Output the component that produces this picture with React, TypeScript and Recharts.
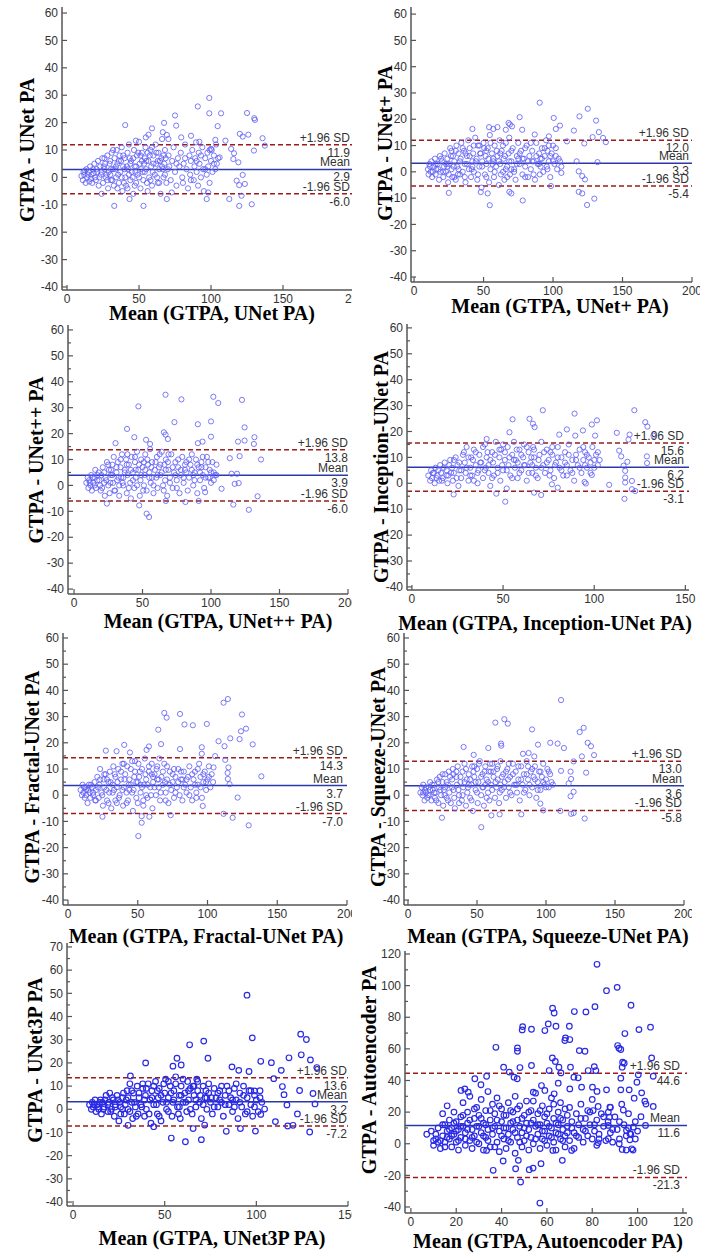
import React from 'react';
import { ScatterChart, Scatter, XAxis, YAxis, ReferenceLine } from 'recharts';

type Pt = [number, number];

// ---- data ----
const unetPts: Pt[] = [
  [10,0.5],[11,-1],[11.5,2],[12,1],[13,-2],[13.5,3],[14,0],[15,2],[15.5,-1.5],[16,4],[17,1],[17.5,-2],[18,3],[19,5],[19.5,0],[20,-1],[21,2],[21.5,6],[22,-3],[23,4],[23.5,1],[24,-6],[24.5,7],[25,-2],[26,3],[26.5,5],[27,0],[28,8],[28.5,-4],[29,2],[30,6],[30.5,-1],[31,9],[32,3],[32.5,-3],[33,7],[34,0],[34.5,10],[35,5],[36,-2],[36.5,8],[37,2],[38,11],[38.5,-5],[39,4],[40,7],[40.5,0],[41,-3],[42,9],[42.5,3],[43,12],[44,-1],[44.5,6],[45,2],[46,-6],[46.5,10],[47,4],[48,-2],[48.5,8],[49,1],[50,13],[50.5,5],[51,-4],[52,9],[52.5,2],[53,-1],[54,7],[54.5,11],[55,3],[56,-5],[56.5,6],[57,0],[58,10],[58.5,4],[59,-3],[60,8],[61,1],[61.5,12],[62,5],[63,-2],[63.5,9],[64,3],[65,-6],[65.5,7],[66,14],[67,0],[67.5,5],[68,10],[69,-2],[70,3],[70.5,8],[72,-1],[73,6],[74,11],[75,2],[76,-3],[77,7],[78,4],[79,9],[80,0],[80.5,-2],[81,5],[82,12],[83,3],[84,-4],[85,8],[85.5,1],[86,6],[87,10],[88,-1],[88.5,4],[89,7],[90,2],[91,-3],[91.5,9],[92,5],[93,0],[94,11],[94.5,3],[95,-5],[96,7],[97,1],[97.5,9],[98,4],[99,-2],[100,6],[100.5,10],[101,2],[102,8],[103,3],[103.5,12],[104,5],[105,7],
  [12.5,2.5],[14.5,1],[16.5,-0.5],[18.5,1.5],[20.5,3],[22.5,0],[24,2],[25.5,4],[27.5,1],[29.5,5],[31.5,-1],[33.5,3],[35.5,1],[37.5,6],[39.5,-2],[41.5,4],[43.5,7],[45.5,0],[47.5,2],[49.5,9],[51.5,3],[53.5,5],[55.5,-2],[57.5,8],[59.5,2],[62.5,0],[64.5,6],[66.5,3],[68.5,7],[71,4],[26,7],[28,-1],[30,1],[32,10],[34,4],[36,6],[38,0],[40,3],[42,-4],[44,5],[46,7],[48,4],[50,0],[52,6],[54,2],[56,9],[58,-1],[60,5],[62,9],[64,-2],[66,4],[68,1],[30.5,3],[35,-4],[39,8],[43,1],[47,-3],[51,8],[55,6],[59,11],[63,6],[67,8],[76,5],[82,7],[86,-1],[90,6],[93,8],[96,3],[99,10],[102,5],
  [40.4,19.1],[90.8,25.9],[98.8,29],[98.8,23.4],[107,23.4],[75,22.6],[67.4,19.9],[75.8,18.9],[104.6,18.7],[59,17.9],[125,23.5],[130,21.6],[130.5,21],[135.8,14.3],[137.4,11.6],[120,15.9],[122,14.9],[125.9,15.6],[110,13.4],[114,10.4],[116,8.8],[119,5.5],[115.5,6.7],[129.8,9.8],[117.8,-1.2],[119.6,-2.8],[123.5,-2.4],[122,0.9],[112.7,-7.9],[119.6,-10.4],[121.2,-6.7],[128.3,-9.8],[32.8,-10.4],[53.1,-10.4],[43.4,-7.9],[69.3,-7.9],[72.7,-5.5],[47.8,13.4],[54.7,14.6],[56.6,15.6],[66.5,16.5],[69.3,15.5],[70.4,14],[79.3,14.6],[86.1,15.2],[89.6,12.8],[91.9,13],[103,13.7],[100,10.4],[106,7.3],[97,-7.9],[98,-5.5],
];

const unetPlusPts: Pt[] = [
  [10,1],[10.5,-1],[11,3],[12,0],[12.5,4],[13,-2],[14,2],[15,5],[15.5,-1],[16,1],[17,3],[18,-3],[18.5,6],[19,0],[20,4],[21,-2],[21.5,2],[22,7],[23,0],[24,5],[24.5,-4],[25,3],[26,9],[27,1],[27.5,-2],[28,6],[29,4],[30,-3],[30.5,10],[31,2],[32,7],[33,-1],[33.5,5],[34,11],[35,0],[36,8],[36.5,3],[37,-4],[38,6],[39,12],[39.5,1],[40,9],[41,-2],[42,4],[42.5,7],[43,0],[44,13],[45,5],[45.5,-3],[46,10],[47,2],[48,7],[48.5,-6],[49,4],[50,11],[51,-1],[51.5,6],[52,3],[53,9],[54,-4],[54.5,14],[55,1],[56,7],[57,4],[57.5,-2],[58,10],[59,2],[60,6],[61,-5],[61.5,12],[62,3],[63,8],[64,0],[64.5,5],[65,-3],[66,11],[67,2],[68,7],[68.5,13],[69,-1],[70,4],[71,9],[72,1],[73,-3],[74,6],[75,11],[76,3],[77,8],[78,-1],[79,5],[80,2],[81,10],[82,-2],[83,6],[84,1],[85,8],[86,4],[87,-3],[88,11],[89,3],[90,7],[90.5,-1],[91,5],[92,9],[93,0],[94,6],[95,12],[95.5,2],[96,8],[97,4],[98,-2],[99,7],[100,10],[101,3],[102,6],[103,1],[104,5],[105,4],[106,2],
  [11.5,2],[13.5,0],[15.5,3],[17.5,1],[19.5,5],[21,0],[23,3],[25,-1],[26.5,6],[28.5,2],[30,8],[31.5,-1],[33,4],[35,9],[36.5,-2],[38,3],[40,6],[41.5,1],[43,10],[44.5,4],[46,-1],[47.5,7],[49,2],[50.5,9],[52,-2],[53.5,5],[55,11],[56.5,3],[58,0],[59.5,8],[61,4],[62.5,-1],[64,10],[65.5,6],[67,-2],[68.5,4],[70,8],[72,0],[74,3],[76,7],[78,5],[80,9],[82,4],[84,11],[86,-1],[88,6],[90,3],[92,5],[94,9],[96,1],[98,6],[100,4],[24,2],[27,8],[32,1],[37,7],[42,2],[47,10],[52,8],[57,5],[62,7],[66,1],[70,1],[75,5],[80,-2],[85,4],[91,2],[97,10],[102,9],[29,-2],
  [90.4,26.3],[76,20.8],[100.5,20.5],[105,17.6],[102,16.3],[115,15.7],[119,21.1],[125,24],[131,19.5],[133,15.1],[136,12.9],[138,11.3],[128.5,13.2],[122.5,10.8],[110,11.6],[42,16.3],[54,17],[57,16.3],[60,17],[66,16],[69,18],[68,18.6],[70.5,17.3],[77.8,16],[86.8,14.2],[97,13.5],[117,4],[118.5,0.2],[121,-1.6],[123,-2.9],[132,3.7],[118.5,-7.6],[121,-8.2],[124.5,-12.6],[129.7,-10.2],[78.2,-10.9],[54.5,-12.7],[48,-7.7],[53,-8.2],[25,-8],[68.6,-7.6],[70,-8.2],[98.5,-5.4],[106,-0.4],
];

const unetPPPts: Pt[] = [
  [9,1],[10,3],[10.5,-1],[11,2],[12,0],[12.5,4],[13,-2],[14,1],[15,3],[15.5,6],[16,-1],[17,2],[18,5],[19,0],[19.5,-2],[20,4],[21,7],[22,1],[22.5,-4],[23,3],[24,9],[25,0],[25.5,6],[26,-3],[27,4],[28,8],[28.5,1],[29,11],[30,-2],[31,5],[31.5,2],[32,9],[33,-4],[34,7],[34.5,3],[35,12],[36,0],[37,6],[38,10],[38.5,-3],[39,4],[40,8],[41,1],[41.5,-5],[42,11],[43,5],[44,-1],[44.5,9],[45,3],[46,13],[47,6],[48,-4],[48.5,2],[49,10],[50,7],[51,0],[51.5,4],[52,12],[53,-2],[54,8],[55,5],[55.5,14],[56,1],[57,9],[58,-3],[59,6],[60,3],[60.5,11],[61,-1],[62,7],[63,4],[64,13],[65,0],[66,8],[66.5,2],[67,10],[68,-4],[69,6],[70,3],[71,12],[72,-1],[73,5],[74,9],[75,2],[76,7],[77,-3],[78,4],[79,11],[80,1],[81,6],[82,9],[83,-2],[84,3],[85,8],[86,12],[87,0],[88,5],[89,10],[90,-3],[91,7],[92,2],[93,9],[94,4],[95,-1],[96,7],[97,11],[98,3],[99,6],[100,1],[101,9],[102,5],[103,4],[104,8],
  [11.5,1],[13.5,3],[15,0],[17,4],[18.5,2],[20.5,-1],[22,5],[23.5,2],[25,8],[26.5,1],[28,4],[29.5,-2],[31,7],[32.5,3],[34,10],[35.5,1],[37,5],[38.5,8],[40,-1],[41.5,6],[43,2],[44.5,11],[46,0],[47.5,8],[49,4],[50.5,-2],[52,6],[53.5,10],[55,3],[56.5,7],[58,0],[59.5,9],[61,4],[62.5,12],[64,5],[65.5,-2],[67,6],[68.5,9],[70,1],[72,7],[74,4],[76,10],[78,6],[80,3],[82,5],[84,10],[86,6],[88,2],[90,8],[92,5],[94,11],[96,3],[98,9],[100,5],[102,2],[27,6],[33,0],[39,12],[45,6],[51,9],[57,3],[63,8],[69,12],[75,-1],[81,8],[87,4],[93,7],[99,3],[104,4],[36,3],
  [66.8,35],[78.4,33.2],[101.7,34.2],[105.3,31.8],[122.6,33],[47,30.5],[73.3,24.4],[90.4,23.6],[100,24.7],[124.5,22.4],[38.7,21.8],[65.6,20.5],[66.8,19.6],[68.5,17.9],[44,18.6],[100,18.8],[119.7,16.9],[124.5,17.3],[131.7,18.6],[131.3,16],[136.5,10],[113.7,10.5],[120.9,11.3],[30.3,16.3],[52.6,17.6],[55.5,16],[90.4,16.3],[93.8,16.9],[115,4.5],[119,4.5],[117.3,0.6],[120.2,0.9],[134,-4.2],[127.6,-9.4],[116.3,-7.4],[107.7,-1.3],[53,-10.9],[54.8,-12.2],[47.6,-7.7],[24,-7],[67,-6],[81.3,-6.4],[91,-6],[95.7,-2.6],
];

const inceptionPts: Pt[] = [
  [9,3],[10,1],[10.5,5],[11,2],[12,4],[12.5,0],[13,6],[14,3],[15,1],[15.5,7],[16,4],[17,2],[18,8],[19,5],[19.5,0],[20,3],[21,9],[22,6],[22.5,1],[23,4],[24,10],[25,7],[25.5,-1],[26,5],[27,2],[28,11],[29,8],[29.5,4],[30,14],[31,1],[32,6],[32.5,10],[33,3],[34,13],[35,7],[36,0],[36.5,5],[37,11],[38,8],[39,2],[40,15],[40.5,6],[41,10],[42,4],[43,-1],[44,12],[44.5,8],[45,3],[46,16],[47,6],[48,10],[48.5,1],[49,13],[50,5],[51,9],[52,-2],[52.5,14],[53,7],[54,3],[55,11],[56,16],[56.5,6],[57,9],[58,2],[59,13],[60,5],[61,10],[61.5,15],[62,7],[63,1],[64,12],[65,8],[66,4],[66.5,14],[67,10],[68,6],[69,2],[70,11],[71,16],[72,7],[73,4],[74,13],[75,9],[76,5],[77,11],[78,2],[79,8],[80,14],[81,6],[82,10],[83,3],[84,12],[85,7],[86,15],[87,5],[88,9],[89,1],[90,11],[91,7],[92,13],[93,4],[94,9],[95,12],[96,6],[97,10],[98,8],[99,14],[100,6],[101,11],[102,7],[103,9],
  [11.5,4],[13.5,2],[14.5,5],[16.5,1],[17.5,6],[19,3],[20.5,7],[21.5,4],[23,9],[24.5,2],[26,8],[27,5],[28.5,12],[30,6],[31,10],[32,3],[33.5,9],[35,12],[36,4],[37.5,8],[39,14],[40,5],[41.5,12],[43,9],[44,2],[45.5,11],[47,4],[48,13],[49.5,7],[51,12],[52,5],[53.5,10],[55,2],[56,9],[57.5,13],[59,4],[60,11],[61.5,7],[63,14],[64,4],[65.5,10],[67,13],[68,3],[69.5,9],[71,6],[72.5,12],[74,8],[75.5,3],[77,14],[78.5,7],[80,10],[82,5],[84,8],[86,11],[88,4],[90,9],[92,6],[94,14],[96,11],[98,4],[100,9],[102,12],[34,1],[42,7],[50,15],[58,8],[66,7],[76,12],[85,3],[95,7],
  [71.8,28.2],[89.2,26.9],[122,28.2],[55.2,24.7],[64.5,24.9],[66.4,23],[67.3,21.7],[101.5,24.3],[98.7,22.7],[93.8,20.4],[85,20.8],[80.8,18.8],[89.6,18.4],[112.4,19.5],[119.4,18.8],[118.8,16.9],[128,23.6],[129.2,21.9],[132.5,18.4],[128.9,10.4],[129,7.8],[100.5,18.4],[41,17.1],[53.5,19.7],[113.7,12.6],[114.8,10.4],[116.1,6.8],[117,4.8],[118.2,8.3],[117,2.2],[117,0.3],[120.7,0.9],[108.2,-0.6],[116.6,-6],[120.7,-2.3],[122.5,-3],[51.2,-7.1],[46.3,-4],[67,-3.6],[70.9,-4.5],[76.8,-0.4],[80,-1.7],[22.9,-4.3],[98.7,3.2],[95.4,-0.1],[94.7,0.5],
];

const fractalPts: Pt[] = [
  [9,2],[10,0],[10.5,4],[11,1],[12,-1],[12.5,3],[13,2],[14,-3],[15,4],[15.5,1],[16,-1],[17,3],[18,0],[19,5],[19.5,-2],[20,2],[21,7],[22,-1],[22.5,4],[23,10],[24,1],[25,-4],[25.5,6],[26,3],[27,8],[28,-2],[29,5],[29.5,1],[30,9],[31,-5],[32,4],[32.5,11],[33,2],[34,7],[35,-3],[35.5,5],[36,10],[37,0],[38,6],[39,12],[39.5,-4],[40,3],[41,8],[42,1],[42.5,11],[43,-2],[44,6],[45,4],[46,13],[46.5,-6],[47,2],[48,9],[49,5],[50,-3],[50.5,12],[51,7],[52,1],[53,10],[54,-4],[54.5,4],[55,14],[56,6],[57,-1],[58,9],[59,3],[60,12],[60.5,-5],[61,5],[62,8],[63,0],[64,11],[65,3],[65.5,14],[66,-2],[67,7],[68,4],[69,12],[70,1],[71,6],[72,-3],[73,9],[74,2],[75,5],[76,-1],[77,7],[78,3],[79,10],[80,0],[81,6],[82,-2],[83,9],[84,4],[85,1],[86,7],[87,11],[88,3],[89,-2],[90,6],[91,9],[92,1],[93,4],[94,12],[95,7],[96,-1],[97,5],[98,9],[99,2],[100,6],[101,11],[102,3],[103,8],[104,5],
  [11.5,3],[13,0],[14.5,2],[16.5,4],[18,1],[20,-2],[21.5,3],[23,6],[24.5,0],[26,8],[27.5,2],[29,-3],[30.5,5],[32,1],[33.5,8],[35,3],[36.5,-1],[38,9],[39,2],[40.5,6],[42,-3],[43.5,4],[45,10],[46,1],[47.5,7],[49,-1],[50,5],[51.5,9],[53,3],[54,-2],[55.5,8],[57,4],[58,11],[59.5,0],[61,7],[62,3],[63.5,10],[65,6],[66.5,1],[68,9],[69.5,5],[71,11],[73,4],[75,8],[77,1],[79,5],[81,9],[83,3],[85,6],[87,0],[89,8],[91,4],[93,10],[95,3],[97,8],[99,5],[101,7],[28,6],[34,-2],[40,12],[44,2],[48,13],[52,4],[56,0],[60,8],[64,6],[70,-2],[76,10],[82,6],[92,-1],
  [50.4,-15.6],[52.8,-10.5],[52.8,-8],[129.5,-11.5],[118,-8.6],[111.5,-7.1],[121.6,-0.9],[24.7,-8.2],[58.3,-8.2],[73.6,-7.6],[69,31.4],[70.7,29.6],[80.3,31],[83.5,27],[89.5,26.7],[99.5,27.2],[111.5,35.3],[114.6,36.7],[124.7,30.8],[127.6,25.4],[124,24.4],[123,21.4],[116.3,21.7],[107.9,20.6],[112.2,18.7],[132.4,19.4],[138.6,7.2],[115,10.6],[114.4,8.5],[114.6,6.2],[115.8,4.2],[112.7,13.5],[105.5,14.9],[95.9,18.3],[95.9,15.8],[80.3,17.6],[64.7,25],[66.7,19.5],[40.3,19.2],[27.1,17],[34.8,16.8],[44.4,16.3],[58,18.6],[56.3,17.3],[104.3,10.6],[96.6,-4.1],
];

const squeezePts: Pt[] = [
  [9,1],[10,3],[10.5,0],[11,4],[12,-2],[12.5,2],[13,1],[14,-1],[15,3],[15.5,0],[16,5],[17,-2],[18,2],[19,4],[19.5,-1],[20,1],[21,6],[22,-3],[22.5,3],[23,7],[24,0],[25,5],[25.5,-4],[26,2],[27,8],[28,-1],[29,4],[29.5,9],[30,1],[31,-3],[32,6],[32.5,10],[33,2],[34,-5],[35,7],[35.5,4],[36,11],[37,0],[38,5],[39,-2],[39.5,9],[40,3],[41,12],[42,-4],[42.5,6],[43,1],[44,8],[45,-1],[46,4],[46.5,11],[47,-6],[48,7],[49,2],[50,10],[50.5,-3],[51,5],[52,13],[53,0],[54,8],[54.5,3],[55,-4],[56,11],[57,6],[58,1],[58.5,9],[59,-2],[60,4],[61,12],[62,7],[63,-1],[64,3],[64.5,10],[65,6],[66,-3],[67,13],[68,2],[69,8],[70,5],[71,-1],[72,10],[73,3],[74,7],[75,0],[76,12],[77,4],[78,9],[79,1],[80,6],[81,-2],[82,11],[83,4],[84,8],[85,2],[86,13],[87,6],[88,0],[89,9],[90,3],[91,7],[92,11],[93,-1],[94,5],[95,9],[96,2],[97,7],[98,12],[99,4],[100,6],[101,10],[102,3],[103,8],[104,5],[105,4],
  [11,1],[13,3],[14.5,0],[16,2],[17.5,4],[19,1],[20.5,-2],[22,5],[23.5,2],[25,8],[26.5,0],[28,5],[29,-2],[30.5,7],[32,3],[33.5,-1],[35,9],[36.5,2],[38,7],[39.5,0],[41,5],[42,10],[43.5,3],[45,6],[46,-2],[47.5,9],[49,5],[50,1],[51.5,12],[53,7],[54,3],[55.5,9],[57,-1],[58,5],[59.5,12],[61,2],[62,9],[63.5,5],[65,11],[66.5,1],[68,7],[69.5,3],[71,9],[72.5,6],[74,1],[76,8],[78,4],[80,11],[82,6],[84,1],[86,8],[88,4],[90,10],[92,6],[94,2],[96,9],[98,5],[100,3],[102,9],[27,3],[33,8],[37,-3],[44,4],[48,11],[56,4],[60,9],[67,4],[73,12],[79,4],[87,11],
  [110.9,36.3],[69.8,29],[72.3,27.3],[63.3,27.7],[89.9,25.1],[124.4,24.1],[127.3,25.7],[130.2,20],[132.6,18.7],[134.8,15.3],[126,14.8],[103.1,20],[108.4,19.7],[113,18],[94.2,19.3],[67.4,19.7],[67.6,18.9],[40.3,18.4],[58.2,18],[47.6,15.4],[83.3,15.8],[87.4,16.1],[91.5,14.8],[120,12.9],[110.9,9.3],[117.8,9],[129.1,8.6],[118.2,6.2],[116.4,4.5],[120,1.3],[117.8,-0.4],[118.2,-7.1],[120,-6.8],[110.4,-6],[128,-8.9],[98,-5.8],[53.1,-12.2],[60.4,-7.7],[66.4,-7.3],[24.6,-8.6],[82.1,-7.3],[95.9,-3.2],
];

const unet3pPts: Pt[] = [
  [9,2],[10,0],[10.5,3],[11,1],[12,4],[12.5,-1],[13,2],[14,0],[15,4],[15.5,-2],[16,3],[17,1],[18,6],[19,-1],[19.5,3],[20,7],[21,0],[22,4],[22.5,-3],[23,2],[24,6],[25,-5],[25.5,3],[26,1],[27,5],[28,-2],[29,4],[29.5,8],[30,0],[31,11],[32,3],[32.5,-4],[33,7],[34,1],[35,10],[35.5,-2],[36,5],[37,2],[38,9],[39,-3],[39.5,6],[40,0],[41,11],[42,4],[42.5,-6],[43,8],[44,2],[45,12],[46,-2],[46.5,5],[47,9],[48,-5],[49,3],[50,7],[50.5,13],[51,0],[52,5],[53,10],[54,-3],[54.5,3],[55,8],[56,14],[57,1],[58,6],[58.5,-4],[59,10],[60,3],[61,7],[62,-1],[62.5,12],[63,4],[64,9],[65,-2],[66,6],[67,1],[67.5,13],[68,8],[69,3],[70,-4],[71,10],[72,5],[73,0],[74,7],[75,3],[76,-2],[77,9],[78,5],[79,1],[80,8],[81,3],[82,-3],[83,6],[84,10],[85,2],[86,5],[87,-1],[88,9],[89,4],[90,-4],[91,7],[92,1],[93,10],[94,-2],[95,5],[96,8],[97,2],[98,-3],[99,6],[100,4],[101,-1],[102,8],[103,3],
  [11.5,2],[13.5,1],[14.5,3],[16.5,0],[17.5,4],[19,2],[20.5,-1],[21.5,5],[23,1],[24.5,4],[26,-2],[27.5,7],[28.5,2],[30,5],[31,-1],[32,8],[33.5,3],[34.5,-3],[36,7],[37.5,1],[39,4],[40,9],[41.5,-2],[43,5],[44,10],[45.5,2],[47,-3],[48,6],[49.5,11],[51,3],[52,-1],[53.5,7],[55,4],[56,11],[57.5,-2],[59,6],[60,13],[61.5,3],[63,8],[64,0],[65.5,10],[67,4],[68,12],[69.5,6],[71,2],[72.5,8],[74,11],[75.5,5],[77,1],[79,7],[81,10],[83,2],[85,8],[87,4],[89,11],[91,3],[93,6],[95,-1],[97,8],[99,1],[102,5],[27,0],[38,11],[46,8],[52,12],[58,1],[66,10],[73,5],[80,4],[88,1],
  [94.9,49.2],[97.8,30.8],[71.3,29.4],[63.6,27.8],[73.6,22],[56.7,22],[59,19.1],[54.5,18.6],[39.6,20],[31.3,14.4],[86.7,18.3],[90.4,16.8],[96,16.3],[102.4,20.7],[108.2,20.1],[113.6,16.8],[117.8,22.2],[124.2,32.4],[127.3,30.1],[124.5,23.5],[129.5,21.3],[133,18],[109.5,13.2],[114.2,9.8],[115.1,6.3],[116.7,1.9],[123.6,8.1],[130.9,6.8],[132,2.3],[122.4,-2],[120,-6.9],[117.1,-7.2],[110.4,-5.3],[129.1,-9.8],[99.5,-9.4],[91.3,-8.3],[83.6,-9.5],[53.6,-12.4],[61.3,-14],[70,-13.1],[65.5,-8.3],[30,-6.9],[44,-7.5],[71.8,-6.8],[102.4,-2.2],[104.5,0.1],[99,7.9],
];

const autoencPts: Pt[] = [
  [7,6],[9,8],[10,2],[10,-1],[11,3],[12,1],[12,10],[13,-3],[14,5],[14,19],[15,12],[15,1],[16,8],[16,24],[17,3],[17,15],[18,-2],[18,10],[19,6],[19,20],[20,1],[20,14],[21,9],[21,-4],[22,17],[22,4],[23,11],[23,26],[24,-1],[24,7],[25,20],[25,13],[26,2],[26,30],[27,9],[27,-3],[28,16],[28,5],[29,23],[29,11],[30,0],[30,18],[31,7],[31,28],[32,-4],[32,13],[33,21],[33,4],[34,9],[34,33],[35,15],[35,-2],[36,25],[36,6],[37,11],[37,19],[38,1],[38,29],[39,8],[39,-5],[40,14],[40,22],[41,3],[41,18],[42,10],[42,-3],[43,26],[43,6],[44,13],[44,1],[45,20],[45,9],[46,-6],[46,30],[47,4],[47,15],[48,11],[48,24],[49,-2],[49,7],[50,18],[50,2],[51,13],[51,27],[52,-4],[52,9],[53,21],[53,4],[54,15],[54,0],[55,11],[55,32],[56,6],[56,19],[57,-3],[57,12],[58,24],[58,3],[59,8],[59,17],[60,-1],[60,13],[61,22],[61,5],[62,10],[62,29],[63,1],[63,16],[64,7],[64,-4],[65,20],[65,12],[66,3],[66,26],[67,9],[67,15],[68,-2],[68,5],[69,18],[69,11],[70,2],[70,23],[71,14],[72,7],[72,-3],[73,19],[74,4],[74,12],[75,25],[76,1],[76,9],[77,16],[78,5],[78,21],[79,12],[80,3],[80,28],[81,8],[82,15],[82,-1],[83,6],[84,19],[85,11],[86,2],[87,14],[88,23],[88,7],[89,1],[90,17],[91,9],[92,3],[93,25],[94,12],[95,-4],[95,5],[96,10],[97,6],[98,-4],[99,14],[100,8],
  [11,6],[13,2],[14,12],[15,-2],[16,4],[17,9],[18,5],[19,13],[20,8],[21,2],[22,11],[23,18],[24,3],[25,9],[26,15],[27,4],[28,22],[29,1],[30,11],[31,16],[32,5],[33,12],[34,2],[35,21],[36,10],[37,-2],[38,15],[39,24],[40,5],[41,10],[42,18],[43,2],[44,21],[45,14],[46,7],[47,22],[48,1],[49,16],[50,10],[51,5],[52,20],[53,13],[54,27],[55,3],[56,12],[57,21],[58,8],[59,2],[60,19],[61,11],[62,4],[63,25],[64,13],[65,6],[66,16],[67,2],[68,22],[69,7],[71,10],[73,5],[75,16],[77,8],[79,20],[81,12],[83,3],[85,17],[89,9],[92,14],[96,19],[99,3],
  [82.1,113.5],[86.3,96.8],[91,98.9],[97.1,87.6],[81.2,86.7],[77.2,83.4],[72.1,83.6],[62.5,85.7],[63.2,82.7],[60.6,75.8],[64,74.3],[69.9,74.3],[53.2,72.4],[49.3,74.1],[49.1,72],[59.1,71.6],[100.6,72.2],[105.7,73.7],[94.4,69.7],[68.2,66.9],[67.9,65.3],[70.1,65.9],[74.3,58.9],[76.8,58.5],[47,60.6],[47,58.5],[37.5,61],[91.2,62.1],[91.8,60.4],[92.6,59.6],[93.4,51.6],[94.1,50.9],[93.2,48.4],[106.2,54.3],[62.4,54.3],[63.7,52],[65.3,48.4],[53.2,49.5],[40.9,48.4],[48.1,48.2],[80.9,48.8],[81.6,46.3],[78.2,46.3],[70.4,48.4],[61,46.3],[66.2,44.8],[73.8,41.7],[71.9,42.1],[100.3,43.6],[99.7,38.9],[101.8,32.2],[106.9,42.7],[106.9,23.6],[103.2,26.9],[103.7,25.1],[101.5,17.1],[92.6,41.5],[92.6,34.1],[96.3,34.1],[98.5,28.8],[93.7,21.3],[86.3,34.1],[82.1,33.1],[80.1,35.8],[75.3,35.8],[70.1,34.7],[65,38.3],[63.2,31.6],[57.6,36.8],[59.1,33.7],[54,32.6],[43.4,45.3],[33.4,42.7],[30.9,37.3],[28.2,41.1],[22.1,33.7],[23.8,34.7],[25.3,32.6],[46.9,41.1],[45.5,42.1],[36.3,-16.8],[46.2,-15.8],[48.4,-24.2],[52.2,-16.4],[53.9,-15.4],[57.4,-12.6],[47.4,-10.5],[40.7,-10.9],[56.9,-37.5],[66.8,-10.5],[70.9,-4.2],[62.6,-4.2],[93.2,-3.6],[97.4,-3.2],[33.4,-4.2],[91.9,0],[96.6,2.5],[87.1,3.2],[82.6,0.6],[103.5,11.6],[95.1,8.4],[96.6,6.3],[98.1,10.5],[87.1,11.6],[87.6,16.8],[87.1,20],[87.8,23.2],[80.4,21],[82.6,23.6],
];

// [upper limit, mean, lower limit]
const unetStats = [11.9, 2.9, -6.0];
const unetPlusStats = [12.0, 3.3, -5.4];
const unetPPStats = [13.8, 3.9, -6.0];
const inceptionStats = [15.6, 6.2, -3.1];
const fractalStats = [14.3, 3.7, -7.0];
const squeezeStats = [13.0, 3.6, -5.8];
const unet3pStats = [13.6, 3.2, -7.2];
const autoencStats = [44.6, 11.6, -21.3];

const xTicks200 = [0, 50, 100, 150, 200];
const xTicks150 = [0, 50, 100, 150];
const xTicks120 = [0, 20, 40, 60, 80, 100, 120];
const yTicks60 = [-40, -30, -20, -10, 0, 10, 20, 30, 40, 50, 60];
const yTicks70 = [-40, -30, -20, -10, 0, 10, 20, 30, 40, 50, 60, 70];
const yTicks120 = [-40, -20, 0, 20, 40, 60, 80, 100, 120];
const yMinor60 = [-35, -25, -15, -5, 5, 15, 25, 35, 45, 55];
const yMinor70 = [-35, -25, -15, -5, 5, 15, 25, 35, 45, 55, 65];
const yMinor120 = [-30, -10, 10, 30, 50, 70, 90, 110];

interface Cfg {
  pts: Pt[];
  stats: number[];
  xTitle: string;
  yTitle: string;
  pl: number; pr: number; pt: number; pb: number;
  xd: [number, number]; yd: [number, number];
  xt: number[]; yt: number[]; ym: number[];
  xtc: [number, number]; ytc: [number, number];
  lblInset: number;
  bold?: boolean;
}

const sans = '"Liberation Sans", Arial, sans-serif';
const serif = '"Liberation Serif", "Times New Roman", serif';
const axisCol = '#555';

const sideLabel = (top: string, bottom: string, inset: number) => (props: any) => {
  const vb = props.viewBox || {};
  const x = (vb.x || 0) + (vb.width || 0) - inset;
  return (
    <g>
      <text x={x} y={vb.y - 3} textAnchor="end" fontSize={12} fontFamily={sans} fill="#333">{top}</text>
      <text x={x} y={vb.y + 12} textAnchor="end" fontSize={12} fontFamily={sans} fill="#333">{bottom}</text>
    </g>
  );
};

// ticks point inward (into the plot), labels stay outside
const Y_GAP = 6;
const yTick = (major: number[]) => (props: any) => {
  const { x, y, payload } = props;
  const ax = x + Y_GAP;
  const isMajor = major.includes(payload.value);
  return (
    <g>
      <line x1={ax} x2={ax + (isMajor ? 5 : 3)} y1={y} y2={y} stroke={axisCol} strokeWidth={1.2} />
      {isMajor && (
        <text x={ax - 4} y={y} dy="0.35em" textAnchor="end" fontSize={12} fontFamily={sans} fill="#333">{payload.value}</text>
      )}
    </g>
  );
};

const X_GAP = 4;
const xTick = (props: any) => {
  const { x, y, payload } = props;
  const ay = y - X_GAP;
  return (
    <g>
      <line x1={x} x2={x} y1={ay} y2={ay - 5} stroke={axisCol} strokeWidth={1.2} />
      <text x={x} y={ay + 4} dy="0.71em" textAnchor="middle" fontSize={12} fontFamily={sans} fill="#333">{payload.value}</text>
    </g>
  );
};

function Panel({ c }: { c: Cfg }) {
  const YW = 34, MT = 6, MR = 8, XH = 24;
  const data = c.pts.map(([x, y]) => ({ x, y }));
  const w = c.pr - c.pl + YW + MR;
  const h = c.pb - c.pt + MT + XH;
  const dot = c.bold
    ? { r: 2.8, stroke: '#2a2ae6', sw: 1.2 }
    : { r: 2.6, stroke: '#5b5bf5', sw: 0.8 };
  const yAll = [...c.yt, ...c.ym].sort((a, b) => a - b);
  const [up, mean, lo] = c.stats;
  return (
    <>
      <div style={{ position: 'absolute', left: c.pl - YW, top: c.pt - MT }}>
        <ScatterChart width={w} height={h} margin={{ top: MT, right: MR, left: 0, bottom: 0 }}>
          <XAxis type="number" dataKey="x" domain={c.xd} ticks={c.xt} allowDataOverflow height={XH} interval={0}
            tick={xTick} tickLine={false} tickSize={0} tickMargin={X_GAP} stroke={axisCol} strokeWidth={1.5} />
          <YAxis type="number" dataKey="y" domain={c.yd} ticks={yAll} allowDataOverflow width={YW} interval={0}
            tick={yTick(c.yt)} tickLine={false} tickSize={0} tickMargin={Y_GAP} stroke={axisCol} strokeWidth={1.5} />
          <ReferenceLine y={up} stroke="#9b1c1c" strokeWidth={1.5} strokeDasharray="5 3"
            label={sideLabel('+1.96 SD', up.toFixed(1), c.lblInset)} />
          <ReferenceLine y={mean} stroke="#2b3aa8" strokeWidth={1.5}
            label={sideLabel('Mean', mean.toFixed(1), c.lblInset)} />
          <ReferenceLine y={lo} stroke="#9b1c1c" strokeWidth={1.5} strokeDasharray="5 3"
            label={sideLabel('-1.96 SD', lo.toFixed(1), c.lblInset)} />
          <Scatter data={data} isAnimationActive={false}
            shape={(p: any) => <circle cx={p.cx} cy={p.cy} r={dot.r} fill="none" stroke={dot.stroke} strokeWidth={dot.sw} />} />
        </ScatterChart>
      </div>
      <div style={{ position: 'absolute', left: c.xtc[0], top: c.xtc[1], transform: 'translate(-50%, -50%)',
        whiteSpace: 'nowrap', fontFamily: serif, fontWeight: 'bold', fontSize: 20, color: '#000' }}>{c.xTitle}</div>
      <div style={{ position: 'absolute', left: c.ytc[0], top: c.ytc[1], transform: 'translate(-50%, -50%) rotate(-90deg)',
        whiteSpace: 'nowrap', fontFamily: serif, fontWeight: 'bold', fontSize: 20, color: '#000' }}>{c.yTitle}</div>
    </>
  );
}

const leftPanels: Cfg[] = [
  { pts: unetPts, stats: unetStats, xTitle: 'Mean (GTPA, UNet PA)', yTitle: 'GTPA - UNet PA',
    pl: 62, pr: 355, pt: 7, pb: 290, xd: [-3.5, 200], yd: [-41.1, 62.2], xt: xTicks200, yt: yTicks60, ym: [],
    xtc: [212, 313], ytc: [27, 150], lblInset: 5 },
  { pts: unetPPPts, stats: unetPPStats, xTitle: 'Mean (GTPA, UNet++ PA)', yTitle: 'GTPA - UNet++ PA',
    pl: 68, pr: 348, pt: 325, pb: 594, xd: [-4.4, 200], yd: [-41.9, 61.9], xt: xTicks200, yt: yTicks60, ym: yMinor60,
    xtc: [218, 621], ytc: [36, 460], lblInset: 0 },
  { pts: fractalPts, stats: fractalStats, xTitle: 'Mean (GTPA, Fractal-UNet PA)', yTitle: 'GTPA - Fractal-UNet PA',
    pl: 63, pr: 347, pt: 633, pb: 905, xd: [-3.6, 200], yd: [-41.9, 61.9], xt: xTicks200, yt: yTicks60, ym: yMinor60,
    xtc: [206, 936], ytc: [32, 777], lblInset: 4 },
  { pts: unet3pPts, stats: unet3pStats, xTitle: 'Mean (GTPA, UNet3P PA)', yTitle: 'GTPA - UNet3P PA',
    pl: 67, pr: 348, pt: 943, pb: 1206, xd: [-3.3, 150], yd: [-41.7, 71.7], xt: xTicks150, yt: yTicks70, ym: yMinor70,
    xtc: [212, 1238], ytc: [35, 1060], lblInset: 1, bold: true },
];

const rightPanels: Cfg[] = [
  { pts: unetPlusPts, stats: unetPlusStats, xTitle: 'Mean (GTPA, UNet+ PA)', yTitle: 'GTPA - UNet+ PA',
    pl: 411, pr: 692, pt: 7, pb: 282, xd: [-2.2, 200], yd: [-41.9, 62.7], xt: xTicks200, yt: yTicks60, ym: [],
    xtc: [560, 306], ytc: [385, 143], lblInset: 3 },
  { pts: inceptionPts, stats: inceptionStats, xTitle: 'Mean (GTPA, Inception-UNet PA)', yTitle: 'GTPA - Inception-UNet PA',
    pl: 407, pr: 689, pt: 324, pb: 590, xd: [-2.7, 152], yd: [-41.2, 61.5], xt: xTicks150, yt: yTicks60, ym: yMinor60,
    xtc: [545, 623], ytc: [381, 467], lblInset: 5 },
  { pts: squeezePts, stats: squeezeStats, xTitle: 'Mean (GTPA, Squeeze-UNet PA)', yTitle: 'GTPA - Squeeze-UNet PA',
    pl: 404, pr: 684, pt: 633, pb: 905, xd: [-2.9, 200], yd: [-41.9, 61.9], xt: xTicks200, yt: yTicks60, ym: yMinor60,
    xtc: [548, 936], ytc: [378, 777], lblInset: 2 },
  { pts: autoencPts, stats: autoencStats, xTitle: 'Mean (GTPA, Autoencoder PA)', yTitle: 'GTPA - Autoencoder PA',
    pl: 405, pr: 687, pt: 951, pb: 1213, xd: [-2.6, 121.8], yd: [-43.8, 121.9], xt: xTicks120, yt: yTicks120, ym: yMinor120,
    xtc: [548, 1241], ytc: [369, 1070], lblInset: 7, bold: true },
];

export default function App() {
  return (
    <div style={{ position: 'absolute', left: 0, top: 0, width: 704, height: 1253, background: '#fff', overflow: 'hidden' }}>
      <div style={{ position: 'absolute', left: 0, top: 0, width: 352, height: 1253, overflow: 'hidden' }}>
        {leftPanels.map((c, i) => <Panel key={i} c={c} />)}
      </div>
      {rightPanels.map((c, i) => <Panel key={i} c={c} />)}
    </div>
  );
}
